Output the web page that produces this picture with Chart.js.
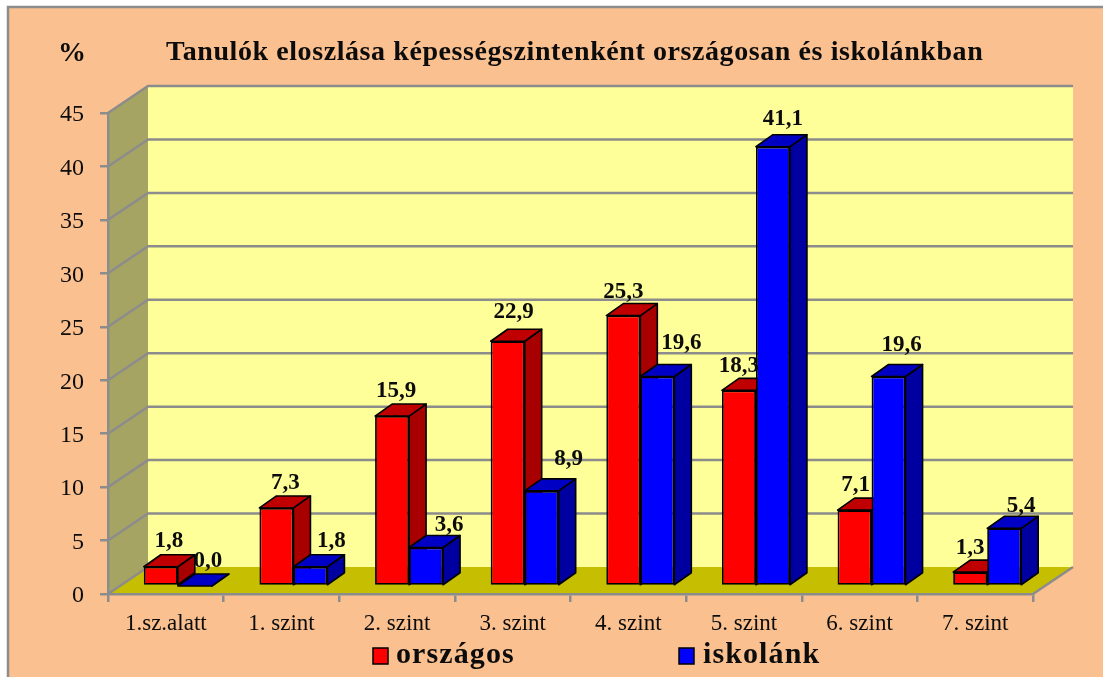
<!DOCTYPE html>
<html><head><meta charset="utf-8">
<style>html,body{margin:0;padding:0;background:#fff}canvas{display:block}</style>
<script src="https://cdn.jsdelivr.net/npm/chart.js@4"></script></head>
<body><div style="width:1103px;height:677px"><canvas id="c" width="1103" height="677"></canvas></div>
<script>
const categories = ['1.sz.alatt','1. szint','2. szint','3. szint','4. szint','5. szint','6. szint','7. szint'];
const orszagos = [1.8,7.3,15.9,22.9,25.3,18.3,7.1,1.3];
const iskolank = [0.0,1.8,3.6,8.9,19.6,41.1,19.6,5.4];
const chartTitle = 'Tanulók eloszlása képességszintenként országosan és iskolánkban';
const unitLabel = '%';
const serif = '"Liberation Serif","Times New Roman",serif';
const WALL = {dx:40, dy:-27}, BAR_SHIFT = {dx:12, dy:-8}, BAR_DEPTH = {dx:17, dy:-12};
const GREY = '#8c8c8c', INK = '#0c0c0c';
const nudge = [
  [[8,-26],[13,-25]],[[9,-25],[21,-26]],[[4,-25],[23,-22]],[[6,-29],[27,-32]],
  [[0,-24],[24,-33]],[[0,-24],[10,-28]],[[1,-25],[13,-31]],[[0,-24],[17,-22]]
];
function poly(ctx,pts,fill,stroke,lw){
  ctx.beginPath();pts.forEach((p,i)=>i?ctx.lineTo(p[0],p[1]):ctx.moveTo(p[0],p[1]));ctx.closePath();
  if(fill){ctx.fillStyle=fill;ctx.fill();}
  if(stroke){ctx.strokeStyle=stroke;ctx.lineWidth=lw;ctx.lineJoin='round';ctx.stroke();}
}
const scene = {
  id:'scene',
  beforeDraw(chart){
    const {ctx,chartArea:a,scales:{y}}=chart;
    const y0=y.getPixelForValue(0), yT=y.getPixelForValue(45);
    ctx.save();
    ctx.fillStyle='#fff';ctx.fillRect(0,0,1103,677);
    ctx.fillStyle='#FAC090';ctx.fillRect(8,7,1095,670);
    ctx.strokeStyle=GREY;ctx.lineWidth=2.5;
    ctx.beginPath();ctx.moveTo(8,677);ctx.lineTo(8,7);ctx.lineTo(1103,7);ctx.stroke();
    poly(ctx,[[a.left+WALL.dx,yT+WALL.dy],[a.right+WALL.dx,yT+WALL.dy],[a.right+WALL.dx,y0+WALL.dy],[a.left+WALL.dx,y0+WALL.dy]],'#FFFF99');
    poly(ctx,[[a.left,yT],[a.left+WALL.dx,yT+WALL.dy],[a.left+WALL.dx,y0+WALL.dy],[a.left,y0]],'#A6A463');
    poly(ctx,[[a.left,y0],[a.left+WALL.dx,y0+WALL.dy],[a.right+WALL.dx,y0+WALL.dy],[a.right,y0]],'#C6BE00');
    ctx.strokeStyle=GREY;ctx.lineWidth=2.5;
    y.ticks.forEach(t=>{
      const p=y.getPixelForValue(t.value);
      ctx.beginPath();ctx.moveTo(a.left,p);ctx.lineTo(a.left+WALL.dx,p+WALL.dy);
      if(t.value>0)ctx.lineTo(a.right+WALL.dx,p+WALL.dy);
      ctx.stroke();
    });
    ctx.beginPath();ctx.moveTo(a.right,y0);ctx.lineTo(a.right+WALL.dx,y0+WALL.dy);ctx.stroke();
    ctx.fillStyle=INK;ctx.textBaseline='middle';ctx.textAlign='left';
    ctx.font='bold 28px '+serif;ctx.letterSpacing='0.58px';
    ctx.fillText(chartTitle,166,53);
    ctx.letterSpacing='0px';
    ctx.textAlign='center';ctx.fillText(unitLabel,72,54);
    ctx.restore();
  },
  beforeDatasetsDraw(chart){
    const {ctx}=chart,d=BAR_DEPTH;
    ctx.save();ctx.translate(BAR_SHIFT.dx,BAR_SHIFT.dy);
    chart.data.datasets.forEach((ds,di)=>{
      const meta=chart.getDatasetMeta(di);
      meta.data.forEach(b=>{
        const p=b.getProps(['x','y','base','width'],true),l=p.x-p.width/2,r=p.x+p.width/2;
        poly(ctx,[[r,p.y],[r+d.dx,p.y+d.dy],[r+d.dx,p.base+d.dy],[r,p.base]],ds.sideColor,'#000',1.6);
        poly(ctx,[[l,p.y],[l+d.dx,p.y+d.dy],[r+d.dx,p.y+d.dy],[r,p.y]],ds.topColor,'#000',1.6);
      });
      meta.controller.draw();
    });
    ctx.restore();
  },
  beforeDatasetDraw(){return false;},
  afterDatasetsDraw(chart){
    const {ctx}=chart;
    ctx.save();ctx.fillStyle=INK;ctx.textAlign='center';ctx.textBaseline='middle';
    ctx.font='bold 23px '+serif;
    chart.data.datasets.forEach((ds,di)=>{
      chart.getDatasetMeta(di).data.forEach((b,i)=>{
        const n=nudge[i][di];
        ctx.fillText(ds.data[i].toFixed(1).replace('.',','),b.x+BAR_SHIFT.dx+n[0],b.y+BAR_SHIFT.dy+n[1]);
      });
    });
    ctx.restore();
  },
  afterDraw(chart){
    const {ctx}=chart;ctx.save();
    const items=[[373,396],[679,703]];
    chart.data.datasets.forEach((ds,i)=>{
      const it=items[i];
      ctx.fillStyle=ds.backgroundColor;ctx.strokeStyle='#000';ctx.lineWidth=1.5;
      ctx.fillRect(it[0],648,15,16);ctx.strokeRect(it[0],648,15,16);
      ctx.fillStyle=INK;ctx.font='bold 30px '+serif;ctx.textAlign='left';ctx.textBaseline='middle';
      ctx.letterSpacing='1.1px';ctx.fillText(ds.label,it[1],655);
    });
    ctx.restore();
  }
};
new Chart(document.getElementById('c'),{
  type:'bar',
  data:{labels:categories,datasets:[
    {label:'országos',data:orszagos,backgroundColor:'#FF0000',sideColor:'#A80000',topColor:'#C00000',borderColor:'#000',borderWidth:1.8,borderSkipped:false,clip:false},
    {label:'iskolánk',data:iskolank,backgroundColor:'#0000FF',sideColor:'#0000A0',topColor:'#0000C4',borderColor:'#000',borderWidth:1.8,borderSkipped:false,clip:false}
  ]},
  options:{
    responsive:false,animation:false,
    layout:{padding:{left:0,top:113,right:70,bottom:0}},
    datasets:{bar:{categoryPercentage:0.588,barPercentage:1}},
    plugins:{legend:{display:false},title:{display:false},tooltip:{enabled:false}},
    scales:{
      x:{
        grid:{display:true,drawOnChartArea:false,drawTicks:true,tickLength:8,color:GREY,lineWidth:2.5,offset:true},
        border:{display:true,color:GREY,width:2.5},
        ticks:{color:INK,font:{family:serif,size:23},padding:8,maxRotation:0,autoSkip:false},
        afterFit(s){s.height=83;}
      },
      y:{
        min:0,max:45,
        grid:{display:true,drawOnChartArea:false,drawTicks:true,tickLength:8,color:GREY,lineWidth:2.5},
        border:{display:true,color:GREY,width:2.5},
        ticks:{stepSize:5,color:INK,font:{family:serif,size:24},padding:16},
        afterFit(s){
          s.width=108;
          if(!s._labelsLowered){
            s._labelsLowered=true;
            const compute=s._computeLabelItems;
            s._computeLabelItems=function(area){
              const items=compute.call(this,area);
              items.forEach(it=>{it.options.translation=[it.options.translation[0],it.options.translation[1]+2];});
              return items;
            };
          }
        }
      }
    }
  },
  plugins:[scene]
});
</script></body></html>
